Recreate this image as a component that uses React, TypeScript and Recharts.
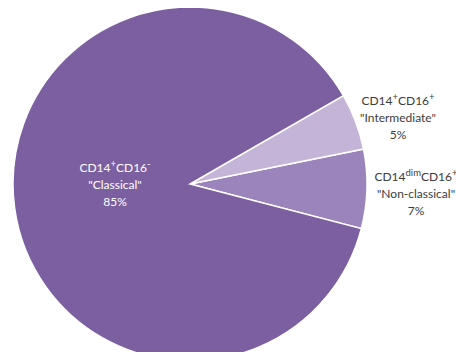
import { Pie, PieChart, Cell } from 'recharts'

const SUBSETS = ['Non-classical', 'Intermediate', 'Classical']
const PERCENTS = [7, 5, 85]
const CD14_SUP = ['dim', '+', '+']
const CD16_SUP = ['+', '+', '-']

const COLORS: Record<string, string> = {
  'Non-classical': '#9A84BB',
  Intermediate: '#C4B5D8',
  Classical: '#7C5FA0',
}

// label block position (middle line baseline), relative to the pie centre
const LABEL_LAYOUT: Record<string, { dx: number; dy: number; fill: string }> = {
  Classical: { dx: -75, dy: 5, fill: '#ffffff' },
  Intermediate: { dx: 208, dy: -62, fill: '#3c3c3c' },
  'Non-classical': { dx: 226, dy: 14, fill: '#3c3c3c' },
}

const data = SUBSETS.map((name, i) => ({
  name,
  value: PERCENTS[i],
  cd14: CD14_SUP[i],
  cd16: CD16_SUP[i],
}))

function SliceLabel(props: any) {
  const { cx, cy, payload, name } = props
  const key = name ?? payload?.name
  const lay = LABEL_LAYOUT[key]
  const row = data.find((d) => d.name === key)
  if (!lay || !row) return null
  const x = cx + lay.dx
  const y = cy + lay.dy
  const supSize = 9.5
  return (
    <text
      x={x}
      y={y}
      textAnchor="middle"
      fill={lay.fill}
      fontFamily="Lato, sans-serif"
      fontSize={12}
    >
      <tspan x={x} dy={-17}>
        CD14
        <tspan fontSize={supSize} dy={-5}>
          {row.cd14}
        </tspan>
        <tspan dy={5}>CD16</tspan>
        <tspan fontSize={supSize} dy={-5}>
          {row.cd16}
        </tspan>
      </tspan>
      <tspan x={x} y={y}>
        "{row.name}"
      </tspan>
      <tspan x={x} dy={17}>
        {row.value}%
      </tspan>
    </text>
  )
}

export default function App() {
  return (
    <div style={{ margin: -8, width: 464, height: 360, background: '#fff', overflow: 'hidden' }}>
      <PieChart width={464} height={360} margin={{ top: 0, right: 0, bottom: 0, left: 0 }}>
        <Pie
          data={data}
          dataKey="value"
          nameKey="name"
          cx={190}
          cy={184}
          outerRadius={177}
          startAngle={-14.6}
          endAngle={345.4}
          stroke="#ffffff"
          strokeWidth={1.5}
          labelLine={false}
          label={SliceLabel}
          isAnimationActive={false}
        >
          {data.map((d) => (
            <Cell key={d.name} fill={COLORS[d.name]} />
          ))}
        </Pie>
      </PieChart>
    </div>
  )
}
